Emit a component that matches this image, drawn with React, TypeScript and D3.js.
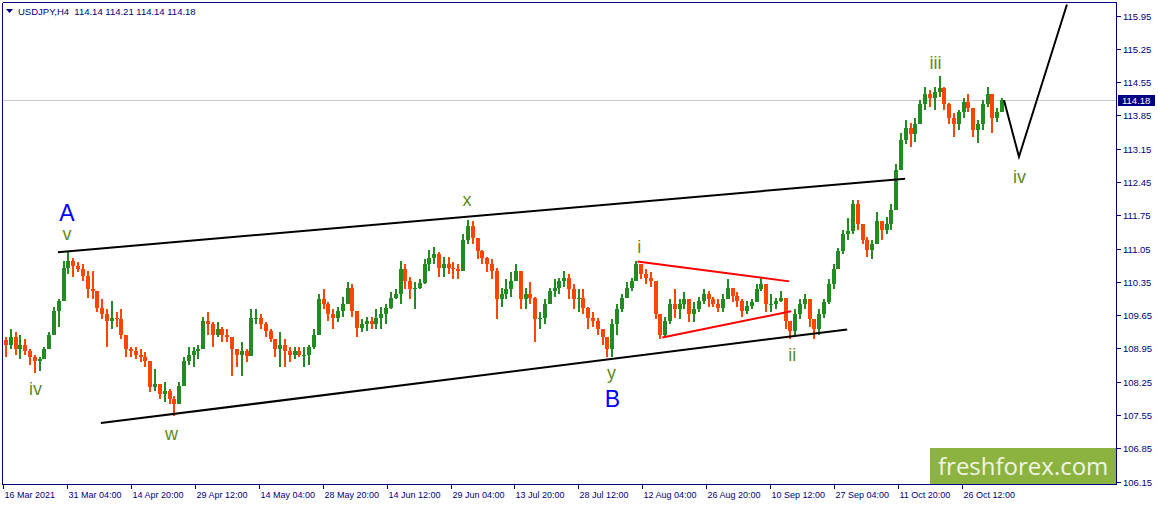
import React from "react";
import * as d3 from "d3";

// ---- data (USDJPY H4, aggregated candles) ----
const TOTAL_H4 = 1002; // H4 bars shown (16 Mar 2021 12:00 .. latest)
const FIRST_OPEN = 109.12;
const closes = [
  109.03,109.18,108.93,109.03,108.89,108.76,108.68,108.72,108.93,109.24,
  109.73,109.94,110.65,110.78,110.69,110.61,110.48,110.19,110.15,109.81,
  109.67,109.52,109.60,109.56,109.24,108.93,108.89,108.82,108.76,108.68,
  108.13,108.20,107.99,108.05,107.88,107.78,108.15,108.68,108.82,108.89,
  108.93,109.52,109.46,109.24,109.35,109.24,109.18,108.93,108.82,108.89,
  108.80,109.60,109.60,109.46,109.31,109.14,108.93,109.03,108.89,108.82,
  108.89,108.82,108.82,108.97,109.24,109.98,109.88,109.67,109.60,109.73,
  109.88,110.23,109.73,109.39,109.46,109.52,109.46,109.60,109.67,109.81,
  110.02,110.09,110.61,110.36,110.19,110.23,110.32,110.72,110.86,110.93,
  110.65,110.72,110.65,110.61,110.57,111.24,111.53,111.28,110.99,110.86,
  110.72,110.57,109.98,110.09,110.19,110.36,110.57,109.98,110.09,110.02,
  109.56,109.60,109.88,110.15,110.23,110.36,110.44,110.19,109.98,110.02,
  109.81,109.60,109.52,109.35,109.18,108.93,109.46,109.77,110.02,110.23,
  110.36,110.72,110.51,110.44,110.36,109.67,109.24,109.52,109.88,109.77,
  109.88,109.98,109.67,109.77,109.94,110.09,109.98,109.88,109.81,109.98,
  110.23,110.06,109.94,109.73,109.85,109.92,110.19,110.30,109.88,109.88,
  109.94,110.02,109.52,109.31,109.67,109.88,109.98,109.56,109.35,109.67,
  109.92,110.30,110.61,110.99,111.35,111.41,111.98,111.56,111.24,111.03,
  111.14,111.62,111.45,111.56,111.87,112.71,113.34,113.59,113.45,113.66,
  114.08,114.29,114.22,114.35,114.43,114.08,113.80,113.66,113.93,114.14,
  114.01,113.55,113.66,114.08,114.29,113.80,113.93,114.18,
];
const highs = [
  109.20,109.35,109.29,109.24,109.14,108.93,108.82,108.78,108.99,109.29,
  109.83,109.98,110.78,110.97,110.86,110.76,110.72,110.57,110.57,110.02,
  109.98,109.77,109.94,109.71,109.77,109.20,108.99,108.99,108.93,108.87,
  108.55,108.51,108.20,108.24,108.09,107.94,108.24,108.76,108.99,108.99,
  109.03,109.62,109.71,109.50,109.50,109.41,109.35,109.14,108.93,109.08,
  108.93,109.77,109.77,109.67,109.50,109.35,109.14,109.29,109.14,108.99,
  108.99,108.99,108.97,109.03,109.35,110.09,110.19,109.92,109.77,109.83,
  110.04,110.34,110.30,109.62,109.56,109.62,109.62,109.77,109.83,109.88,
  110.13,110.19,110.78,110.72,110.46,110.34,110.40,110.82,111.03,111.09,
  110.97,110.88,110.88,110.76,110.72,111.35,111.66,111.62,111.24,111.03,
  110.88,110.82,110.65,110.23,110.40,110.55,110.72,110.40,110.23,110.34,
  110.04,109.71,109.98,110.23,110.40,110.44,110.57,110.51,110.30,110.19,
  110.19,109.83,109.71,109.60,109.35,109.20,109.56,109.88,110.09,110.34,
  110.44,110.78,110.72,110.61,110.55,110.30,109.56,109.62,109.98,110.19,
  109.98,110.13,109.98,109.92,110.04,110.19,110.15,110.04,109.98,110.09,
  110.40,110.19,110.13,109.98,109.94,109.98,110.30,110.44,110.30,110.09,
  110.02,110.15,109.98,109.46,109.77,109.98,110.09,109.92,109.56,109.77,
  109.98,110.40,110.72,111.07,111.45,111.70,112.08,112.08,111.56,111.30,
  111.24,111.81,111.62,111.72,111.98,112.82,113.49,113.76,113.70,113.80,
  114.18,114.45,114.39,114.45,114.68,114.45,114.12,113.91,113.97,114.22,
  114.29,113.97,113.76,114.18,114.45,114.22,114.01,114.22,
];
const lows = [
  108.78,108.93,108.82,108.72,108.82,108.61,108.43,108.47,108.72,108.93,
  109.35,109.41,109.98,110.51,110.46,110.55,110.36,110.02,109.98,109.71,
  109.56,108.99,109.35,109.41,109.14,108.78,108.78,108.72,108.66,108.57,
  108.03,108.05,107.88,107.82,107.78,107.52,107.88,108.20,108.61,108.57,
  108.72,109.03,109.24,108.99,109.20,109.08,109.08,108.36,108.57,108.36,
  108.66,108.89,109.46,109.35,109.20,109.08,108.78,108.57,108.57,108.66,
  108.72,108.76,108.57,108.61,108.93,109.35,109.77,109.52,109.35,109.50,
  109.62,109.88,109.62,109.20,109.29,109.31,109.35,109.35,109.35,109.46,
  109.77,109.98,109.88,110.19,109.98,109.77,110.19,110.30,110.57,110.72,
  110.46,110.46,110.51,110.40,110.40,110.67,111.14,111.14,110.82,110.72,
  110.55,110.40,109.56,109.83,109.98,110.04,110.36,109.77,109.77,109.88,
  109.08,109.35,109.46,109.88,110.04,110.09,110.25,109.98,109.77,109.71,
  109.67,109.35,109.41,109.24,109.03,108.76,108.76,109.24,109.71,110.04,
  110.15,110.36,110.40,110.30,110.25,109.56,109.14,109.18,109.46,109.60,
  109.56,109.77,109.50,109.50,109.71,109.88,109.83,109.83,109.71,109.71,
  109.98,109.92,109.83,109.62,109.67,109.77,109.92,110.15,109.71,109.71,
  109.77,109.92,109.35,109.14,109.24,109.56,109.77,109.41,109.14,109.24,
  109.60,109.88,110.19,110.65,110.93,111.24,111.35,111.45,111.14,110.88,
  110.82,111.20,111.24,111.35,111.45,111.87,112.82,113.24,113.19,113.28,
  113.72,113.97,114.03,113.97,114.24,113.97,113.66,113.40,113.55,113.80,
  113.93,113.40,113.26,113.55,114.03,113.49,113.72,113.93,
];

const xTickLabels = [
  "16 Mar 2021","31 Mar 04:00","14 Apr 20:00","29 Apr 12:00","14 May 04:00",
  "28 May 20:00","14 Jun 12:00","29 Jun 04:00","13 Jul 20:00","28 Jul 12:00",
  "12 Aug 04:00","26 Aug 20:00","10 Sep 12:00","27 Sep 04:00","11 Oct 20:00",
  "26 Oct 12:00",
];
const H4_PER_LABEL = 64;
const yTicks = [115.95,115.25,114.55,113.85,113.15,112.45,111.75,111.05,110.35,109.65,108.95,108.25,107.55,106.85,106.15];
const LAST_PRICE = 114.18;
const TITLE = "USDJPY,H4  114.14 114.21 114.14 114.18";

// trend lines: [h4 bar, price]
const upperChannel: [number, number][] = [[55, 110.97], [903, 112.52]];
const lowerChannel: [number, number][] = [[98, 107.38], [845, 109.35]];
const triUpper: [number, number][] = [[635, 110.78], [787, 110.36]];
const triLower: [number, number][] = [[660, 109.18], [789, 109.73]];
const projection: [number, number][] = [[1002, 114.17], [1017, 112.98], [1065, 116.18]];

// wave labels: text, h4 bar, baseline price, kind
const waveLabels: [string, number, number, string][] = [
  ["A", 64, 111.63, "big"],
  ["v", 64, 111.22, "small"],
  ["iv", 32.5, 107.97, "small"],
  ["w", 168.7, 107.03, "small"],
  ["x", 464.5, 111.94, "small"],
  ["y", 609, 108.3, "small"],
  ["B", 610, 107.71, "big"],
  ["i", 637, 110.95, "small"],
  ["ii", 790, 108.68, "small"],
  ["iii", 933.5, 114.83, "small"],
  ["iv", 1017.5, 112.42, "small"],
];

const W = 1158, H = 505;
const LEFT = 2.5, TOP = 2.5, AXIS_X = 1116.5, BOTTOM = 484.5;
const NAVY = "#000080";
const FONT = "'Liberation Sans', Arial, sans-serif";

export default function App() {
  React.useEffect(() => {
    document.body.style.margin = "0";
  }, []);

  const x = d3.scaleLinear().domain([0, TOTAL_H4]).range([3, 1004]);
  const y = d3.scaleLinear().domain([106.15, 115.95]).range([481.6, 15.5]);
  const perCandle = TOTAL_H4 / closes.length;
  const line = d3.line<[number, number]>().x((d) => x(d[0])).y((d) => y(d[1]));

  const candles = closes.map((c, i) => {
    const o = i === 0 ? FIRST_OPEN : closes[i - 1];
    const hi = Math.max(highs[i], o, c);
    const lo = Math.min(lows[i], o, c);
    const cx = Math.floor(x((i + 0.5) * perCandle));
    const col = c >= o ? "#228B22" : "#FF4500";
    const yTop = y(Math.max(o, c));
    const yBot = y(Math.min(o, c));
    return (
      <g key={i}>
        <rect x={cx - 0.5} y={y(hi)} width={2} height={Math.max(1, y(lo) - y(hi))} fill={col} />
        <rect x={cx - 1.5} y={yTop} width={4} height={Math.max(1, yBot - yTop)} fill={col} />
      </g>
    );
  });

  return (
    <svg width={W} height={H} style={{ position: "fixed", left: 0, top: 0, background: "#fff" }}>
      <rect x={0} y={0} width={W} height={H} fill="#fff" />
      {/* current price line */}
      <line x1={LEFT} x2={AXIS_X} y1={Math.round(y(LAST_PRICE)) + 0.5} y2={Math.round(y(LAST_PRICE)) + 0.5} stroke="#c8c8c8" strokeWidth={1} />
      <g shapeRendering="crispEdges">{candles}</g>

      {/* channel lines */}
      <path d={line(upperChannel) || ""} stroke="#000" strokeWidth={2} fill="none" />
      <path d={line(lowerChannel) || ""} stroke="#000" strokeWidth={2} fill="none" />
      <path d={line(triUpper) || ""} stroke="#ff0000" strokeWidth={2} fill="none" />
      <path d={line(triLower) || ""} stroke="#ff0000" strokeWidth={2} fill="none" />
      <path d={line(projection) || ""} stroke="#000" strokeWidth={2} fill="none" />

      {/* wave labels */}
      {waveLabels.map(([t, h, p, kind], i) => (
        <text
          key={i}
          x={x(h)}
          y={y(p)}
          textAnchor="middle"
          fontFamily={FONT}
          fontSize={kind === "big" ? 23 : 18}
          fill={kind === "big" ? "#0000ff" : "#5f8a1c"}
        >
          {t}
        </text>
      ))}

      {/* logo */}
      <rect x={930} y={448} width={AXIS_X - 930} height={BOTTOM - 448} fill="#8cb340" />
      <text x={938} y={475} fontFamily="'Open Sans', sans-serif" fontSize={24} fill="#f0f5e4">
        freshforex.com
      </text>

      {/* frame */}
      <g shapeRendering="crispEdges">
        <line x1={LEFT} x2={AXIS_X} y1={TOP} y2={TOP} stroke={NAVY} />
        <line x1={LEFT} x2={LEFT} y1={TOP} y2={BOTTOM} stroke={NAVY} />
        <line x1={AXIS_X} x2={AXIS_X} y1={TOP} y2={BOTTOM} stroke={NAVY} />
        <line x1={LEFT} x2={AXIS_X} y1={BOTTOM} y2={BOTTOM} stroke={NAVY} />
      </g>

      {/* right axis */}
      {yTicks.map((v) => {
        const ty = Math.round(y(v)) + 0.5;
        return (
          <g key={v}>
            <line x1={AXIS_X} x2={AXIS_X + 4} y1={ty} y2={ty} stroke={NAVY} shapeRendering="crispEdges" />
            <text x={1123} y={ty + 3.5} fontFamily={FONT} fontSize={9.5} fill={NAVY}>
              {v.toFixed(2)}
            </text>
          </g>
        );
      })}
      <rect x={1118} y={Math.round(y(LAST_PRICE)) - 5} width={37} height={11} fill={NAVY} />
      <text x={1122} y={Math.round(y(LAST_PRICE)) + 4} fontFamily={FONT} fontSize={9.5} fill="#fff">
        {LAST_PRICE.toFixed(2)}
      </text>

      {/* bottom axis */}
      {xTickLabels.map((lab, k) => {
        const tx = Math.round(x(k * H4_PER_LABEL)) + 0.5;
        return (
          <g key={lab}>
            <line x1={tx} x2={tx} y1={BOTTOM} y2={BOTTOM + 4} stroke={NAVY} shapeRendering="crispEdges" />
            <text x={tx + 1} y={498} fontFamily={FONT} fontSize={9} fill={NAVY}>
              {lab}
            </text>
          </g>
        );
      })}

      {/* title */}
      <path d="M6,9 L13,9 L9.5,13 Z" fill={NAVY} />
      <text x={18} y={14.5} fontFamily={FONT} fontSize={9.5} fill={NAVY} style={{ whiteSpace: "pre" }}>
        {TITLE}
      </text>
    </svg>
  );
}
